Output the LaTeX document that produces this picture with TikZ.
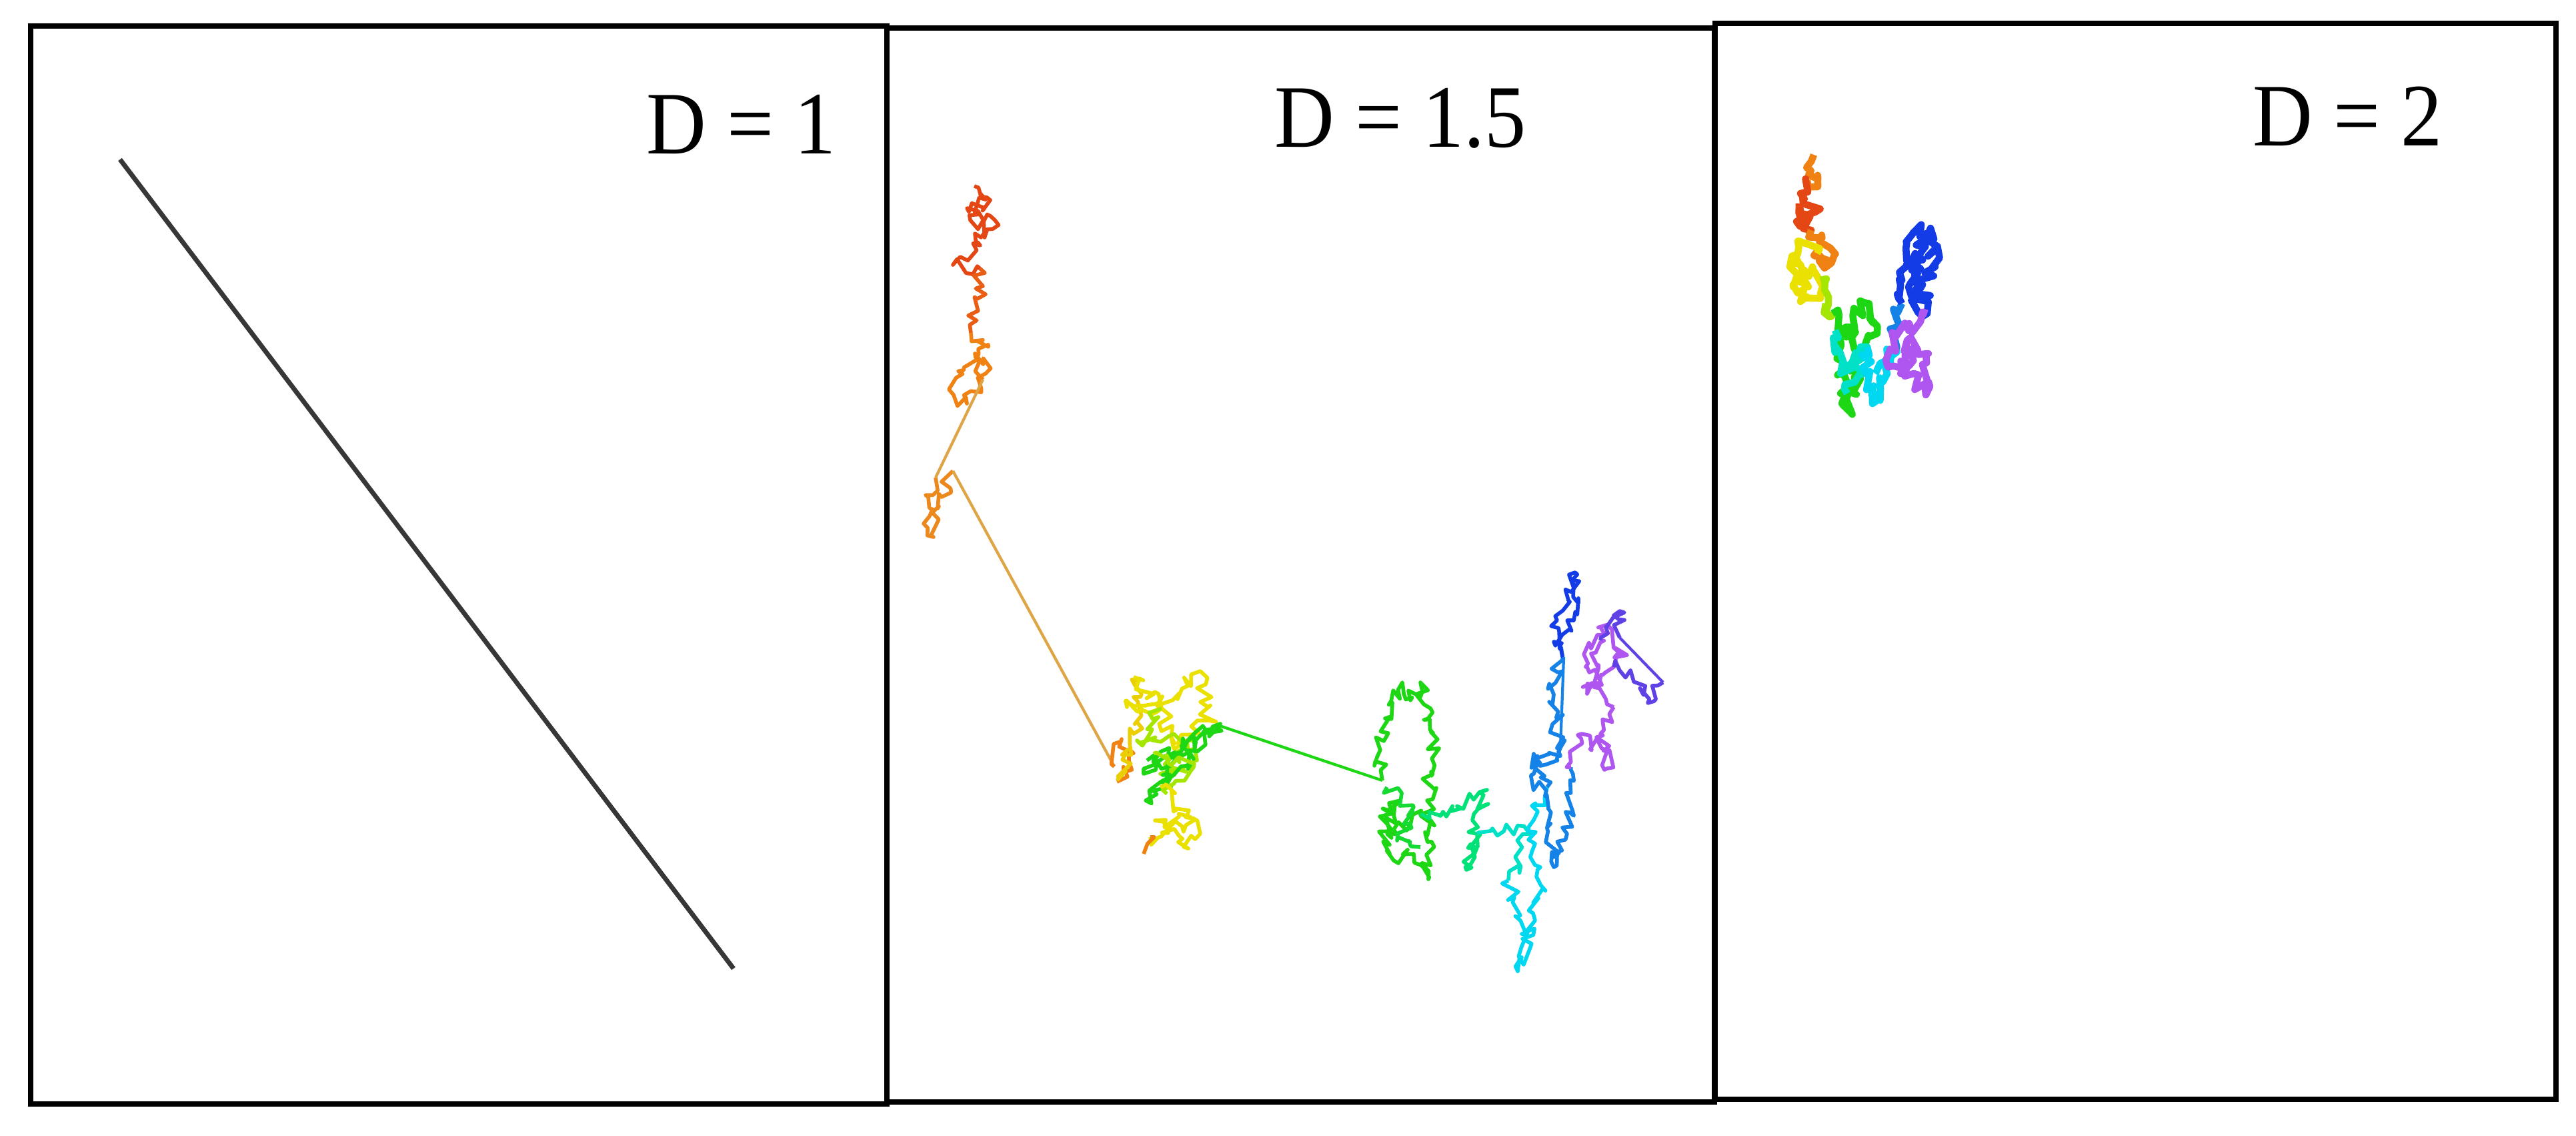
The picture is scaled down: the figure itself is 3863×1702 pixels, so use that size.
\documentclass[tikz,border=0pt]{standalone}
\usepackage{fontspec}
\setmainfont{Liberation Serif}
\usetikzlibrary{decorations.pathmorphing}
\definecolor{cA}{RGB}{228,70,20}
\definecolor{cB}{RGB}{240,130,20}
\definecolor{cC}{RGB}{222,165,70}
\definecolor{cD}{RGB}{235,225,0}
\definecolor{cE}{RGB}{165,230,0}
\definecolor{cF}{RGB}{30,215,20}
\definecolor{cG}{RGB}{0,225,120}
\definecolor{cH}{RGB}{0,225,200}
\definecolor{cI}{RGB}{0,215,240}
\definecolor{cJ}{RGB}{20,130,230}
\definecolor{cK}{RGB}{20,60,230}
\definecolor{cL}{RGB}{95,65,230}
\definecolor{cM}{RGB}{175,85,240}
\definecolor{lineg}{RGB}{55,55,55}
\tikzset{
  frame/.style={draw=black, line width=2.5pt},
  lbl/.style={inner sep=0pt, anchor=base west, xscale=0.93, font=\fontsize{38}{40}\selectfont},
  walkA/.style={line width=1.6pt, line join=round, decorate, decoration={random steps, segment length=2.2pt, amplitude=3.2pt}},
  walkB/.style={line width=3pt, line join=round, decorate, decoration={random steps, segment length=2.2pt, amplitude=3pt}},
  jump/.style={line width=1.2pt}
}
\begin{document}
\begin{tikzpicture}[x=0.01cm, y=-0.01cm]
\useasboundingbox (0,0) rectangle (3863,1702);
\fill[white] (0,0) rectangle (3863,1702);
\pgfmathsetseed{7}
% frames
\draw[frame] (46,39) rectangle (1330,1655);
\draw[frame] (1330,42) rectangle (2571,1652);
\draw[frame] (2572,35) rectangle (3833,1648);
% labels
\node[lbl] (l1) at (969,230) {D = 1};
\node[lbl] (l2) at (1911,220) {D = 1.5};
\node[lbl] (l3) at (3378,218) {D = 2};
% D = 1 line
\coordinate (s1) at (180,239);
\coordinate (e1) at (1100,1452);
\draw[lineg, line width=2pt] (s1) -- (e1);
% D = 1.5 walk
\draw[walkA, cA] (1461,279) -- (1485,300) -- (1450,312) -- (1492,330) -- (1462,350) -- (1470,368) -- (1440,385) -- (1429,397) -- (1470,403);
\draw[walkA, cA] (1470,290) -- (1455,330) -- (1480,345);
\draw[walkA, cA!60!cB] (1470,403) -- (1474,429) -- (1452,473) -- (1456,499);
\draw[walkA, cB] (1456,499) -- (1482,520) -- (1445,555) -- (1430,592) -- (1450,605) -- (1478,560) -- (1462,530) -- (1474,569);
\draw[jump, cC] (1474,569) -- (1403,716);
\draw[walkA, cB!80!cC] (1403,716) -- (1392,745) -- (1385,785) -- (1400,805) -- (1412,745) -- (1429,706);
\draw[jump, cC] (1429,706) -- (1671,1149);
\draw[walkA, cB] (1671,1149) -- (1682,1108) -- (1693,1140) -- (1675,1172);
\draw[walkA, cD!80!cB] (1675,1170) -- (1700,1100) -- (1712,1040) -- (1700,1015);
\draw[walkA, cD] (1700,1015) -- (1742,1062) -- (1800,1006) -- (1812,1080) -- (1760,1122) -- (1742,1062) -- (1690,1060) -- (1740,1050);
\draw[walkA, cE] (1742,1062) -- (1705,1110) -- (1760,1100) -- (1795,1140) -- (1740,1160) -- (1790,1110);
\draw[walkA, cF] (1720,1140) -- (1780,1112) -- (1830,1085) -- (1760,1162) -- (1718,1200) -- (1765,1135) -- (1715,1160) -- (1829,1088);
\draw[walkA, cE] (1730,1130) -- (1790,1150) -- (1750,1190);
\draw[walkA, cD] (1740,1180) -- (1800,1250) -- (1782,1272) -- (1732,1230) -- (1790,1230) -- (1725,1255);
\draw[walkA, cB] (1725,1255) -- (1715,1280);
\draw[jump, cF] (1829,1088) -- (2073,1170);
\draw[walkA, cF] (2073,1170) -- (2065,1135) -- (2077,1077) -- (2103,1023) -- (2115,1050) -- (2130,1023) -- (2149,1099) -- (2146,1157) -- (2140,1200) -- (2142,1318) -- (2120,1280) -- (2090,1290) -- (2069,1224) -- (2100,1200) -- (2080,1250) -- (2130,1220);
\draw[walkA, cF!70!cG] (2080,1180) -- (2120,1210) -- (2095,1260) -- (2130,1270);
\draw[walkA, cG] (2130,1220) -- (2169,1224) -- (2230,1184) -- (2199,1304) -- (2215,1250);
\draw[walkA, cH] (2215,1250) -- (2238,1242) -- (2291,1246) -- (2262,1320);
\draw[walkA, cI] (2262,1320) -- (2282,1400) -- (2276,1456) -- (2302,1380) -- (2310,1300) -- (2291,1246) -- (2320,1180);
\draw[walkA, cJ] (2320,1180) -- (2300,1130) -- (2337,1126) -- (2330,1041) -- (2341,970);
\draw[walkA, cK] (2341,970) -- (2335,930) -- (2352,900) -- (2362,858) -- (2360,930) -- (2330,962) -- (2345,985);
\draw[jump, cJ] (2345,985) -- (2340,1120);
\draw[walkA, cJ] (2340,1120) -- (2300,1160) -- (2322,1210) -- (2330,1300) -- (2350,1250) -- (2356,1150);
\draw[walkA, cM] (2356,1150) -- (2372,1100) -- (2402,1122) -- (2410,1152) -- (2400,1100) -- (2420,1060);
\draw[walkA, cM] (2420,1060) -- (2380,1000) -- (2400,940) -- (2440,982) -- (2420,1000) -- (2380,1040) -- (2400,960);
\draw[walkA, cL] (2400,960) -- (2429,916) -- (2429,956);
\draw[jump, cL] (2429,956) -- (2494,1023);
\draw[walkA, cL] (2494,1023) -- (2471,1054) -- (2450,1022) -- (2420,1000);
% D = 2 walk
\draw[walkB, cB] (2720,232) -- (2712,262) -- (2726,280) -- (2710,270);
\draw[walkB, cA] (2710,270) -- (2700,290) -- (2722,318) -- (2694,332) -- (2716,345) -- (2698,305);
\draw[walkB, cB] (2716,345) -- (2745,372) -- (2736,402) -- (2724,378) -- (2742,390);
\draw[walkB, cD] (2725,380) -- (2700,362) -- (2684,400) -- (2700,452) -- (2730,440) -- (2718,400) -- (2695,420) -- (2712,430) -- (2690,380);
\draw[walkB, cE] (2730,420) -- (2742,445) -- (2748,472) -- (2738,455);
\draw[walkB, cF] (2748,470) -- (2770,500) -- (2758,560) -- (2775,618) -- (2786,560) -- (2770,490) -- (2800,455) -- (2815,500) -- (2790,540);
\draw[walkB, cH] (2752,495) -- (2760,560) -- (2790,520) -- (2800,520) -- (2770,590);
\draw[walkB, cI] (2800,520) -- (2808,605) -- (2830,560) -- (2842,520) -- (2812,560);
\draw[walkB, cJ] (2840,520) -- (2845,480) -- (2852,455);
\draw[walkB, cK] (2852,455) -- (2858,400) -- (2868,350) -- (2895,342) -- (2902,400) -- (2880,432) -- (2872,380) -- (2890,470) -- (2862,430) -- (2885,360);
\draw[walkB, cM] (2890,470) -- (2880,482) -- (2840,500) -- (2828,540) -- (2870,560) -- (2888,592) -- (2892,530) -- (2860,510) -- (2850,560) -- (2875,520);
\end{tikzpicture}
\end{document}
